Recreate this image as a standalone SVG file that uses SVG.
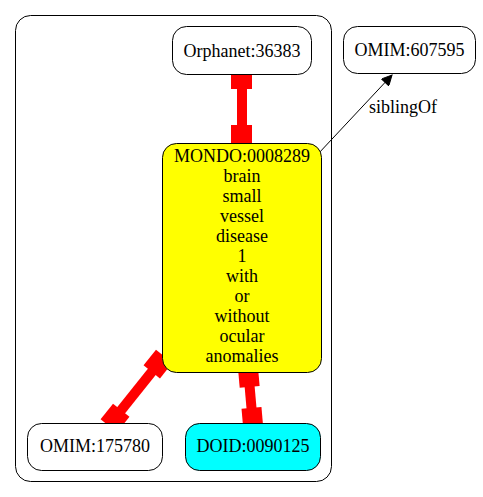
<svg xmlns="http://www.w3.org/2000/svg" width="483" height="497" viewBox="0 0 483 497">
<style>
.node{stroke:#000;stroke-width:1;}
.lbl{font-family:"Liberation Serif","Times New Roman",serif;font-size:18px;fill:#000;text-anchor:middle;}
.red{fill:#ff0000;stroke:none;}
</style>
<defs>
<marker id="arr" viewBox="0 0 10 10" refX="10" refY="5" markerWidth="14" markerHeight="10" markerUnits="userSpaceOnUse" orient="auto">
<path d="M0,0 L10,5 L0,10 Z" fill="#000" stroke="#000"/>
</marker>
</defs>
<rect width="483" height="497" fill="#fff"/>
<g id="cluster"><rect x="15.5" y="15.5" width="316" height="466" rx="15" fill="none" stroke="#000" stroke-width="1"/></g>
<g id="connectors">
<g id="e1"><rect class="red" x="231" y="69" width="21" height="20"/><rect class="red" x="237" y="88" width="10" height="39"/><rect class="red" x="231" y="125" width="21" height="18"/></g>
<g id="e2" transform="translate(248,368) rotate(-5)"><rect class="red" x="-10" y="0" width="20" height="19"/><rect class="red" x="-5" y="18" width="10" height="24"/><rect class="red" x="-10" y="40" width="20" height="20"/></g>
<g id="e3" transform="translate(164.2,356.2) rotate(38.5)"><rect class="red" x="-10.5" y="0" width="21" height="20"/><rect class="red" x="-5" y="19" width="10" height="51"/><rect class="red" x="-10.5" y="69" width="21" height="20"/></g>
<g id="e4"><line x1="318" y1="154" x2="392" y2="75" stroke="#000" stroke-width="1" marker-end="url(#arr)"/>
<text class="lbl" x="369" y="113" style="text-anchor:start">siblingOf</text></g>
</g>
<g id="orphanet"><rect class="node" x="172.5" y="26.5" width="139" height="48" rx="14" fill="#fff"/><text class="lbl" x="242" y="57">Orphanet:36383</text></g>
<g id="omim607595"><rect class="node" x="343.5" y="26.5" width="132" height="47" rx="14" fill="#fff"/><text class="lbl" x="409.5" y="56">OMIM:607595</text></g>
<g id="mondo"><rect class="node" x="162.5" y="143.5" width="159" height="229" rx="14" fill="#ffff00"/>
<text class="lbl" x="242" y="162">MONDO:0008289</text>
<text class="lbl" x="242" y="182">brain</text>
<text class="lbl" x="242" y="202">small</text>
<text class="lbl" x="242" y="222">vessel</text>
<text class="lbl" x="242" y="242">disease</text>
<text class="lbl" x="242" y="262">1</text>
<text class="lbl" x="242" y="282">with</text>
<text class="lbl" x="242" y="302">or</text>
<text class="lbl" x="242" y="322">without</text>
<text class="lbl" x="242" y="342">ocular</text>
<text class="lbl" x="242" y="362">anomalies</text>
</g>
<g id="omim175780"><rect class="node" x="27.5" y="423.5" width="135" height="47" rx="14" fill="#fff"/><text class="lbl" x="95" y="452">OMIM:175780</text></g>
<g id="doid"><rect class="node" x="185.5" y="423.5" width="135" height="47" rx="14" fill="#00ffff"/><text class="lbl" x="253" y="452">DOID:0090125</text></g>
</svg>
